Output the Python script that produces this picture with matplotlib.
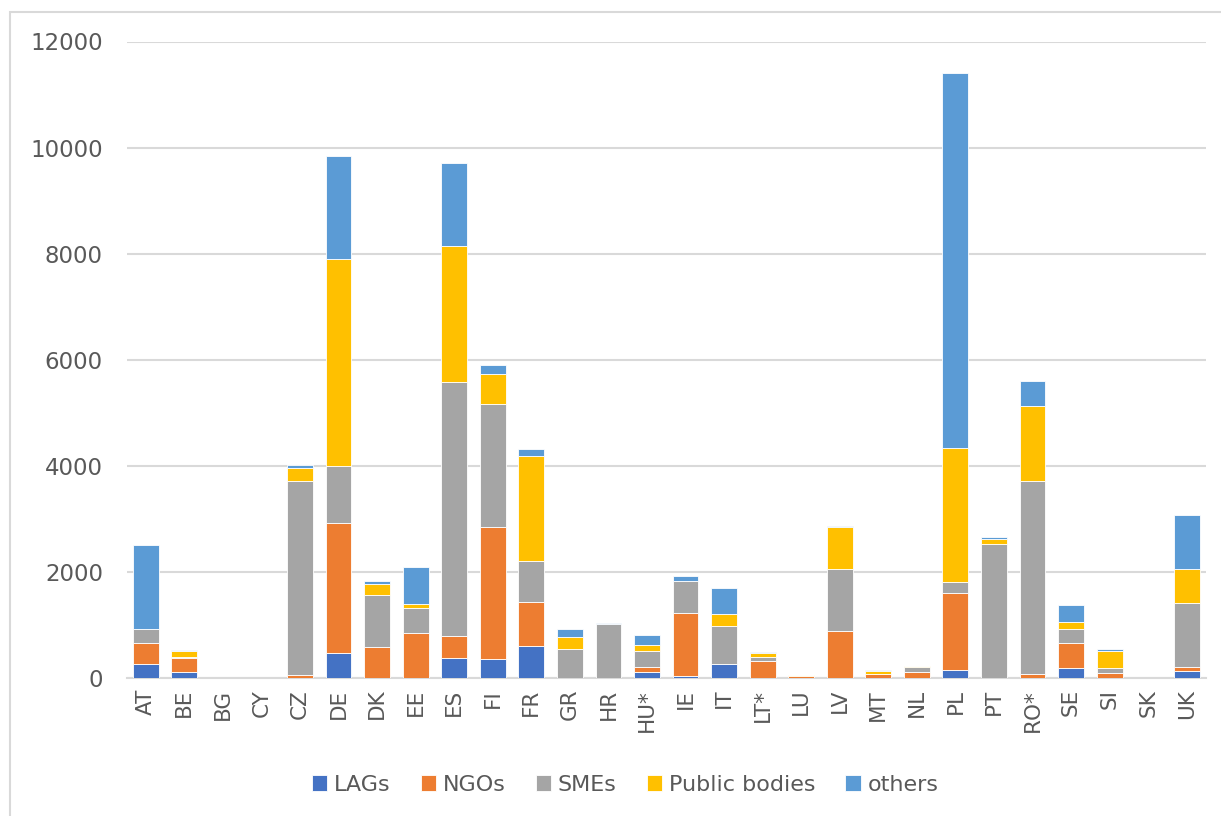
import matplotlib
matplotlib.use("Agg")
import matplotlib.pyplot as plt
from matplotlib.patches import Rectangle
import numpy as np

categories = ["AT", "BE", "BG", "CY", "CZ", "DE", "DK", "EE", "ES", "FI", "FR", "GR", "HR", "HU*",
              "IE", "IT", "LT*", "LU", "LV", "MT", "NL", "PL", "PT", "RO*", "SE", "SI", "SK", "UK"]
lags = [253, 102, 0, 0, 0, 472, 0, 0, 372, 347, 592, 0, 0, 102,
        38, 264, 0, 0, 0, 0, 0, 151, 0, 0, 177, 0, 0, 121]
ngos = [407, 270, 0, 0, 45, 2441, 585, 849, 421, 2491, 831, 0, 0, 100,
        1189, 0, 315, 40, 887, 75, 102, 1442, 0, 64, 472, 83, 0, 81]
smes = [259, 24, 0, 0, 3661, 1088, 981, 472, 4793, 2321, 785, 536, 1008, 296,
        598, 717, 81, 0, 1170, 0, 100, 219, 2529, 3653, 264, 106, 0, 1208]
public_bodies = [0, 114, 0, 0, 257, 3900, 208, 70, 2566, 572, 1975, 232, 0, 113,
                 0, 215, 70, 8, 792, 51, 13, 2517, 88, 1410, 132, 315, 0, 641]
others = [1585, 10, 0, 0, 51, 1930, 51, 698, 1555, 175, 138, 145, 24, 195,
          94, 491, 19, 0, 19, 10, 0, 7076, 38, 466, 327, 38, 0, 1013]

series = [("LAGs", lags, "#4472C4"), ("NGOs", ngos, "#ED7D31"), ("SMEs", smes, "#A5A5A5"),
          ("Public bodies", public_bodies, "#FFC000"), ("others", others, "#5B9BD5")]

plt.rcParams['font.family'] = ['DejaVu Sans']
fig = plt.figure(figsize=(12.21, 8.16), dpi=100)
ax = fig.add_axes([126.5/1221, 1-677.7/816, (1206-126.5)/1221, (677.7-41.5)/816])

x = np.arange(len(categories))
bottom = np.zeros(len(categories))
for name, vals, col in series:
    v = np.array(vals, dtype=float)
    ax.bar(x, v, bottom=bottom, width=0.67, color=col, edgecolor="white", linewidth=0.6, label=name, zorder=3)
    bottom += v

ax.set_ylim(0, 12000)
ax.set_xlim(-0.5, len(categories)-0.5)
ax.set_yticks(np.arange(0, 12001, 2000))
ax.yaxis.grid(True, color="#d9d9d9", linewidth=1.5, zorder=0)
ax.set_axisbelow(True)
for s in ["top", "right", "left"]:
    ax.spines[s].set_visible(False)
ax.spines["bottom"].set_color("#d9d9d9")
ax.spines["bottom"].set_linewidth(1.5)
ax.tick_params(axis="both", length=0, colors="#595959")
ax.tick_params(axis="y", pad=17, labelsize=16.5)
ax.tick_params(axis="x", pad=8, labelsize=15.5)
ax.set_xticks(x)
ax.set_xticklabels(categories, rotation=90)

leg = fig.legend(loc="center", bbox_to_anchor=(0.512, 1-785/816), ncol=5, frameon=False,
                 fontsize=16, handlelength=0.7, handleheight=0.7, handletextpad=0.3,
                 columnspacing=1.35, labelcolor="#595959")

fig.patches.append(Rectangle((10/1221, -0.1), 1.2, 1-12/816+0.1, transform=fig.transFigure,
                             fill=False, edgecolor="#d9d9d9", linewidth=1.5))

fig.savefig("out.png", dpi=100, facecolor="white")
